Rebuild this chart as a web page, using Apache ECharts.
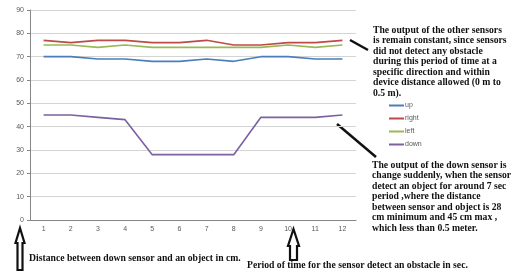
<!DOCTYPE html>
<html>
<head>
<meta charset="utf-8">
<script src="https://cdn.jsdelivr.net/npm/echarts@6/dist/echarts.min.js"></script>
<style>
  html, body { margin: 0; padding: 0; background: #fff; }
  #chart1 { width: 520px; height: 273px; }
</style>
</head>
<body>
<div id="chart1"></div>
<script>
// data
var categories = ['1','2','3','4','5','6','7','8','9','10','11','12'];
var upData    = [70, 70, 69, 69, 68, 68, 69, 68, 70, 70, 69, 69];
var rightData = [77, 76, 77, 77, 76, 76, 77, 75, 75, 76, 76, 77];
var leftData  = [75, 75, 74, 75, 74, 74, 74, 74, 74, 75, 74, 75];
var downData  = [45, 45, 44, 43, 28, 28, 28, 28, 44, 44, 44, 45];
var yTicks = { min: 0, max: 90, interval: 10 };

var noteTop = 'The output of the other sensors\nis remain constant, since sensors\ndid not detect any obstacle\nduring this period of time at a\nspecific direction and within\ndevice distance allowed (0 m to\n0.5 m).';
var noteDown = 'The output of the down sensor is\nchange suddenly, when the sensor\ndetect an object for around 7 sec\nperiod ,where the distance\nbetween sensor and object is 28\ncm minimum and 45 cm max ,\nwhich less than 0.5 meter.';
var noteX = 'Period of time for the sensor detect an obstacle in sec.';
var noteY = 'Distance between down sensor and an object in cm.';

var serifBold = {fontFamily: '"Liberation Serif", serif', fontWeight: 'bold', fontSize: 9.7, fill: '#111'};

function lineSeries(name, data, color) {
    return {
        name: name,
        type: 'line',
        data: data,
        symbol: 'none',
        lineStyle: {color: color, width: 1.6},
        itemStyle: {color: color}
    };
}

var myChart1 = echarts.init(document.getElementById('chart1'));
var option1 = {
    animation: false,
    grid: {left: 30, right: 164, top: 10, bottom: 53},
    legend: {
        orient: 'vertical',
        left: 384,
        top: 96,
        itemWidth: 15,
        itemHeight: 2,
        itemGap: 4,
        icon: 'rect',
        textStyle: {fontSize: 7, color: '#595959', lineHeight: 9, padding: [0, 0, 0, -4]},
        data: ['up', 'right', 'left', 'down']
    },
    xAxis: {
        type: 'category',
        data: categories,
        axisLine: {lineStyle: {color: '#868686'}},
        axisTick: {length: 3, lineStyle: {color: '#868686'}},
        axisLabel: {fontSize: 7, color: '#595959', margin: 6}
    },
    yAxis: {
        type: 'value',
        min: yTicks.min,
        max: yTicks.max,
        interval: yTicks.interval,
        axisLine: {show: true, lineStyle: {color: '#868686'}},
        axisTick: {show: true, length: 3, lineStyle: {color: '#868686'}},
        axisLabel: {fontSize: 7, color: '#595959', margin: 6},
        splitLine: {lineStyle: {color: '#d4d4d4'}}
    },
    series: [
        lineSeries('up', upData, '#4a7ebb'),
        lineSeries('right', rightData, '#be4b48'),
        lineSeries('left', leftData, '#98b954'),
        lineSeries('down', downData, '#7d60a0')
    ],
    graphic: [
        {type: 'text', left: 373, top: 25, style: Object.assign({text: noteTop, lineHeight: 10.5}, serifBold)},
        {type: 'text', left: 372, top: 160, style: Object.assign({text: noteDown, lineHeight: 10.5}, serifBold)},
        {type: 'text', left: 29, top: 253, style: Object.assign({text: noteY}, serifBold)},
        {type: 'text', left: 247, top: 260, style: Object.assign({text: noteX}, serifBold)},
        {type: 'line', shape: {x1: 350, y1: 40, x2: 368, y2: 50}, style: {stroke: '#111', lineWidth: 2.5}},
        {type: 'line', shape: {x1: 337, y1: 124, x2: 376, y2: 157}, style: {stroke: '#111', lineWidth: 2.5}},
        {
            type: 'polygon',
            shape: {points: [[20, 228], [24.5, 243], [22.5, 243], [22.5, 270], [17.5, 270], [17.5, 243], [15.5, 243]]},
            style: {fill: '#fff', stroke: '#111', lineWidth: 2.2}
        },
        {
            type: 'polygon',
            shape: {points: [[293.5, 229], [299, 246], [297, 246], [297, 260], [290, 260], [290, 246], [288, 246]]},
            style: {fill: '#fff', stroke: '#111', lineWidth: 2.2}
        }
    ]
};
myChart1.setOption(option1);
</script>
</body>
</html>
